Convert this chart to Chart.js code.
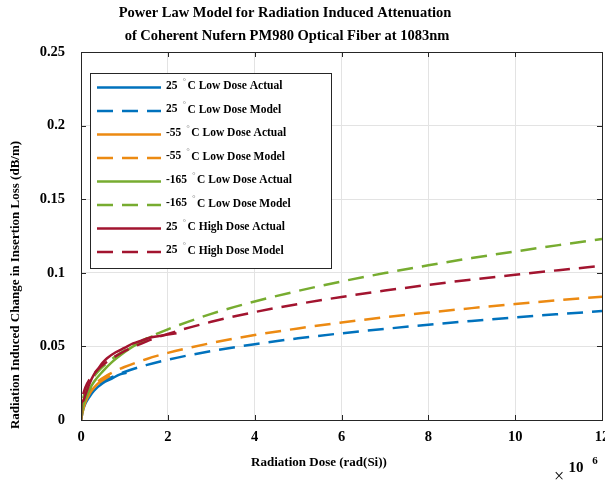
<!DOCTYPE html>
<html>
<head>
<meta charset="utf-8">
<script src="https://cdn.jsdelivr.net/npm/chart.js@4.4.1/dist/chart.umd.min.js"></script>
<style>
  html, body { margin: 0; padding: 0; background: #fff; }
  #wrap { width: 605px; height: 484px; }
</style>
</head>
<body>
<div id="wrap"><canvas id="dataChart" width="605" height="484"></canvas></div>
<script>
// dose values are in units of 10^6 rad(Si)
const modelDose = [0.05, 0.1, 0.2, 0.4, 0.6, 0.8, 1, 1.5, 2, 3, 4, 5, 6, 7, 8, 9, 10, 11, 12];
const blueModel = [0.0121, 0.0153, 0.0192, 0.0241, 0.0275, 0.0303, 0.0326, 0.0373, 0.041, 0.0468, 0.0515, 0.0555, 0.0589, 0.0619, 0.0647, 0.0673, 0.0697, 0.0719, 0.074];
const orangeModel = [0.013, 0.0165, 0.0208, 0.0264, 0.0303, 0.0334, 0.036, 0.0413, 0.0456, 0.0523, 0.0577, 0.0622, 0.0662, 0.0698, 0.073, 0.076, 0.0788, 0.0814, 0.0838];
const greenModel = [0.0149, 0.0195, 0.0254, 0.0332, 0.0388, 0.0433, 0.0472, 0.0552, 0.0616, 0.0721, 0.0805, 0.0877, 0.0941, 0.0998, 0.1051, 0.11, 0.1145, 0.1188, 0.1229];
const redModel = [0.0176, 0.0221, 0.0277, 0.0347, 0.0396, 0.0434, 0.0467, 0.0533, 0.0585, 0.0667, 0.0733, 0.0788, 0.0836, 0.0879, 0.0918, 0.0954, 0.0987, 0.1018, 0.1047];

const blueDose = [0, 0.05, 0.1, 0.2, 0.3, 0.5, 0.7, 0.9, 1.05];
const blueActual = [0, 0.007, 0.011, 0.016, 0.02, 0.025, 0.028, 0.031, 0.032];
const orangeDose = [0, 0.05, 0.1, 0.2, 0.3, 0.4, 0.5, 0.67];
const orangeActual = [0, 0.007, 0.012, 0.018, 0.022, 0.025, 0.027, 0.03];
const greenDose = [0, 0.05, 0.1, 0.2, 0.3, 0.5, 0.7, 1.0, 1.2, 1.5, 1.65];
const greenActual = [0, 0.01, 0.014, 0.021, 0.026, 0.033, 0.039, 0.046, 0.05, 0.055, 0.057];
const redDose = [0, 0.01, 0.05, 0.1, 0.2, 0.3, 0.4, 0.5, 0.6, 0.8, 1.0, 1.2, 1.4, 1.6, 1.8, 2.0, 2.2];
const redActual = [0, 0.011, 0.013, 0.017, 0.025, 0.031, 0.035, 0.039, 0.042, 0.046, 0.049, 0.052, 0.054, 0.056, 0.057, 0.058, 0.059];

const legendTemps = ["25", "25", "-55", "-55", "-165", "-165", "25", "25"];
const legendNames = ["C Low Dose Actual", "C Low Dose Model", "C Low Dose Actual", "C Low Dose Model",
  "C Low Dose Actual", "C Low Dose Model", "C High Dose Actual", "C High Dose Model"];

const xTicks = [0, 2, 4, 6, 8, 10, 12];
const yTickLabels = ["0", "0.05", "0.1", "0.15", "0.2", "0.25"];

const titleLines = ["Power Law Model for Radiation Induced Attenuation", "of Coherent Nufern PM980 Optical Fiber at 1083nm"];
const xTitle = "Radiation Dose (rad(Si))";
const yTitle = "Radiation Induced Change in Insertion Loss (dB/m)";

const BLUE = "#0072BD";
const ORANGE = "#EC8A12";
const GREEN = "#77AC30";
const RED = "#A2142F";
const SERIF = "'Liberation Serif', 'Times New Roman', serif";

const toPoints = (xs, ys) => xs.map((x, i) => ({ x, y: ys[i] }));

const makeSet = (xs, ys, color, dashed, i) => ({
  data: toPoints(xs, ys),
  borderColor: color,
  backgroundColor: color,
  borderWidth: 2.5,
  borderDash: dashed ? [16, 9] : [],
  pointRadius: 0,
  fill: false,
  cubicInterpolationMode: "monotone",
  order: -i,
});

const datasets = [
  makeSet(blueDose, blueActual, BLUE, false, 0),
  makeSet(modelDose, blueModel, BLUE, true, 1),
  makeSet(orangeDose, orangeActual, ORANGE, false, 2),
  makeSet(modelDose, orangeModel, ORANGE, true, 3),
  makeSet(greenDose, greenActual, GREEN, false, 4),
  makeSet(modelDose, greenModel, GREEN, true, 5),
  makeSet(redDose, redActual, RED, false, 6),
  makeSet(modelDose, redModel, RED, true, 7),
];

// box, inner tick marks, titles, legend and exponent label
const matlabLook = {
  id: "matlabLook",
  afterDraw(chart) {
    const ctx = chart.ctx;
    const a = chart.chartArea;
    const xs = chart.scales.x;
    const ys = chart.scales.y;
    ctx.save();

    ctx.strokeStyle = "#262626";
    ctx.lineWidth = 1;
    ctx.beginPath();
    xTicks.forEach((t) => {
      const px = Math.round(xs.getPixelForValue(t)) + 0.5;
      ctx.moveTo(px, a.bottom); ctx.lineTo(px, a.bottom - 5);
      ctx.moveTo(px, a.top); ctx.lineTo(px, a.top + 5);
    });
    yTickLabels.forEach((_, i) => {
      const py = Math.round(ys.getPixelForValue(i * 0.05)) + 0.5;
      ctx.moveTo(a.left, py); ctx.lineTo(a.left + 5, py);
      ctx.moveTo(a.right, py); ctx.lineTo(a.right - 5, py);
    });
    ctx.stroke();
    ctx.strokeRect(Math.round(a.left) + 0.5, Math.round(a.top) + 0.5,
      Math.round(a.right - a.left), Math.round(a.bottom - a.top));

    ctx.fillStyle = "#000";
    ctx.textAlign = "center";
    ctx.textBaseline = "middle";
    ctx.font = "bold 14.5px " + SERIF;
    ctx.fillText(titleLines[0], 285, 13);
    ctx.fillText(titleLines[1], 287, 36);

    ctx.font = "bold 13px " + SERIF;
    ctx.fillText(xTitle, 319, 463);
    ctx.save();
    ctx.translate(16, 285);
    ctx.rotate(-Math.PI / 2);
    ctx.fillText(yTitle, 0, 0);
    ctx.restore();

    ctx.font = "18px " + SERIF;
    ctx.fillText("\u00d7", 559, 477);
    ctx.font = "bold 15px " + SERIF;
    ctx.fillText("10", 576, 468);
    ctx.font = "bold 11px " + SERIF;
    ctx.fillText("6", 595, 461);

    // legend
    const lx = 90, ly = 73, lw = 241, lh = 195;
    ctx.fillStyle = "#fff";
    ctx.fillRect(lx, ly, lw, lh);
    ctx.strokeStyle = "#262626";
    ctx.strokeRect(lx + 0.5, ly + 0.5, lw, lh);
    ctx.textAlign = "left";
    chart.data.datasets.forEach((ds, i) => {
      const y = 87.5 + i * 23.5;
      ctx.strokeStyle = ds.borderColor;
      ctx.lineWidth = 2.5;
      ctx.setLineDash(ds.borderDash);
      ctx.beginPath();
      ctx.moveTo(97, y); ctx.lineTo(161, y);
      ctx.stroke();
      ctx.setLineDash([]);
      ctx.fillStyle = "#000";
      ctx.font = "bold 11.5px " + SERIF;
      ctx.fillText(legendTemps[i], 166, y - 1.5);
      const w = ctx.measureText(legendTemps[i]).width;
      ctx.fillStyle = "#999";
      ctx.font = "bold 9px " + SERIF;
      ctx.fillText("\u00b0", 166 + w + 5, y - 6);
      ctx.fillStyle = "#000";
      ctx.font = "bold 11.5px " + SERIF;
      ctx.fillText(legendNames[i], 166 + w + 10, y - 1);
    });
    ctx.restore();
  },
};

const ctxMain = document.getElementById("dataChart").getContext("2d");

const lineChart = new Chart(ctxMain, {
  type: "line",
  data: { datasets },
  options: {
    responsive: false,
    animation: false,
    layout: { padding: { top: 52, right: 3, left: 0, bottom: 0 } },
    plugins: {
      legend: { display: false },
      title: { display: false },
      tooltip: { enabled: false },
    },
    scales: {
      x: {
        type: "linear",
        min: 0,
        max: 12,
        afterFit: (scale) => {
          scale.height = 64;
          scale.paddingLeft = 0;
          scale.paddingRight = 0;
        },
        afterBuildTicks: (scale) => { scale.ticks = xTicks.map((v) => ({ value: v })); },
        ticks: {
          padding: 9,
          color: "#000",
          font: { family: SERIF, size: 14.5, weight: "bold" },
          callback: (v) => String(v),
          maxRotation: 0,
        },
        grid: { color: "#e3e3e3", drawTicks: false },
        border: { display: false },
      },
      y: {
        type: "linear",
        min: 0,
        max: 0.25,
        afterFit: (scale) => {
          scale.width = 81;
          scale.paddingTop = 0;
          scale.paddingBottom = 0;
        },
        afterBuildTicks: (scale) => { scale.ticks = yTickLabels.map((_, i) => ({ value: i * 0.05 })); },
        ticks: {
          padding: 16,
          color: "#000",
          font: { family: SERIF, size: 14.5, weight: "bold" },
          callback: (v, i) => yTickLabels[i],
        },
        grid: { color: "#e3e3e3", drawTicks: false },
        border: { display: false },
      },
    },
  },
  plugins: [matlabLook],
});
</script>
</body>
</html>
